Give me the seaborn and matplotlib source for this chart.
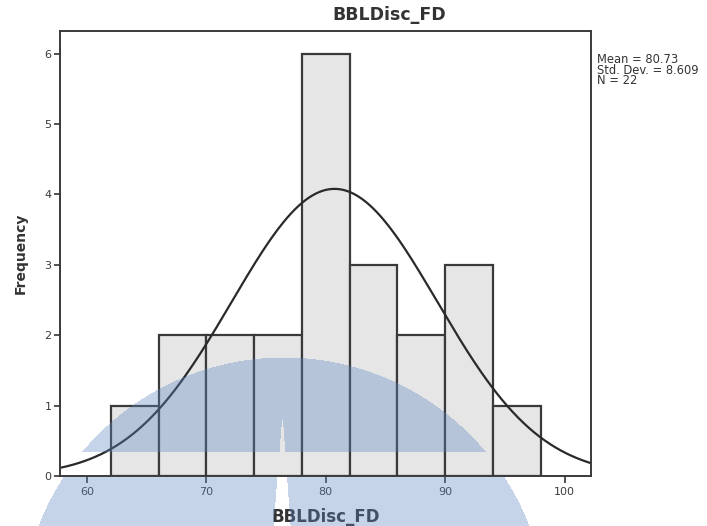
import numpy as np
import pandas as pd
import matplotlib
matplotlib.use("Agg")
import matplotlib.pyplot as plt
import seaborn as sns

# Histogram of BBLDisc_FD with fitted normal curve
bin_edges = [62, 66, 70, 74, 78, 82, 86, 90, 94, 98]
counts = [1, 2, 2, 2, 6, 3, 2, 3, 1]
mean_val = 80.73
std_val = 8.609
n_obs = 22
x_ticks = [60, 70, 80, 90, 100]
y_ticks = [0, 1, 2, 3, 4, 5, 6]

sns.set_theme(style="white")
plt.rcParams["font.family"] = ["DejaVu Sans"]

W, H = 707, 526
fig = plt.figure(figsize=(W / 100, H / 100), dpi=100, facecolor="white")
ax = fig.add_axes([60 / W, (H - 476) / H, (591 - 60) / W, (476 - 31) / H])
ax.set_facecolor("white")

centers = [(a + b) / 2 for a, b in zip(bin_edges[:-1], bin_edges[1:])]
df = pd.DataFrame({"value": centers, "count": counts})
sns.histplot(data=df, x="value", weights="count", bins=bin_edges, ax=ax,
             color="#e6e6e6", alpha=1.0, edgecolor="#3a3a3a", linewidth=1.6)

# Normal curve scaled to frequency (N * bin width)
xmin, xmax = 57.75, 102.2
bw = bin_edges[1] - bin_edges[0]
xs = np.linspace(xmin, xmax, 300)
ys = n_obs * bw * np.exp(-0.5 * ((xs - mean_val) / std_val) ** 2) / (std_val * np.sqrt(2 * np.pi))
sns.lineplot(x=xs, y=ys, ax=ax, color="#2a2a2a", linewidth=1.6)

ax.set_xlim(xmin, xmax)
ax.set_ylim(0, 6.32)
ax.set_xticks(x_ticks)
ax.set_yticks(y_ticks)
ax.set_xticklabels([str(t) for t in x_ticks], fontsize=8, color="#3a3a3a")
ax.set_yticklabels([str(t) for t in y_ticks], fontsize=8, color="#3a3a3a")
ax.tick_params(axis="x", direction="out", length=5, width=1.2, color="#333333",
               bottom=True, pad=3)
ax.tick_params(axis="y", direction="out", length=4, width=1.2, color="#333333",
               left=True, pad=2)
for s in ax.spines.values():
    s.set_color("#3a3a3a")
    s.set_linewidth(1.4)

ax.set_xlabel("BBLDisc_FD", fontsize=12, fontweight="bold", color="#333333", labelpad=8)
ax.set_ylabel("Frequency", fontsize=10, fontweight="bold", color="#333333", labelpad=12)
fig.text(389 / W, 1 - 15 / H, "BBLDisc_FD", ha="center", va="center",
         fontsize=12.5, fontweight="bold", color="#333333")

fig.text(597 / W, 1 - 53 / H, f"Mean = {mean_val:.2f}\nStd. Dev. = {std_val:.3f}\nN = {n_obs}",
         ha="left", va="top", fontsize=8.3, color="#333333", linespacing=0.75)

# Translucent arch emblem across the lower part of the figure
yy, xx = np.mgrid[0:H, 0:W].astype(float)
cx, cy, R = 283.5, 620.0, 263.0
disk = (xx - cx) ** 2 + (yy - cy) ** 2 <= R ** 2
gap = (yy >= 452) & (yy <= 476)
nl = 281.5 - np.clip(yy - 420, 0, None) * 0.08
nr = 282.5 + np.clip(yy - 420, 0, None) * 0.072
notch = (yy >= 420) & (xx >= nl) & (xx <= nr)
mask = disk & ~gap & ~notch
img = np.zeros((H, W, 4))
img[..., 0] = 95 / 255
img[..., 1] = 135 / 255
img[..., 2] = 195 / 255
img[..., 3] = np.where(mask, 0.36, 0.0)
fig.figimage(img, xo=0, yo=0, origin="upper", zorder=10)

fig.savefig("out.png", dpi=100, facecolor="white")
